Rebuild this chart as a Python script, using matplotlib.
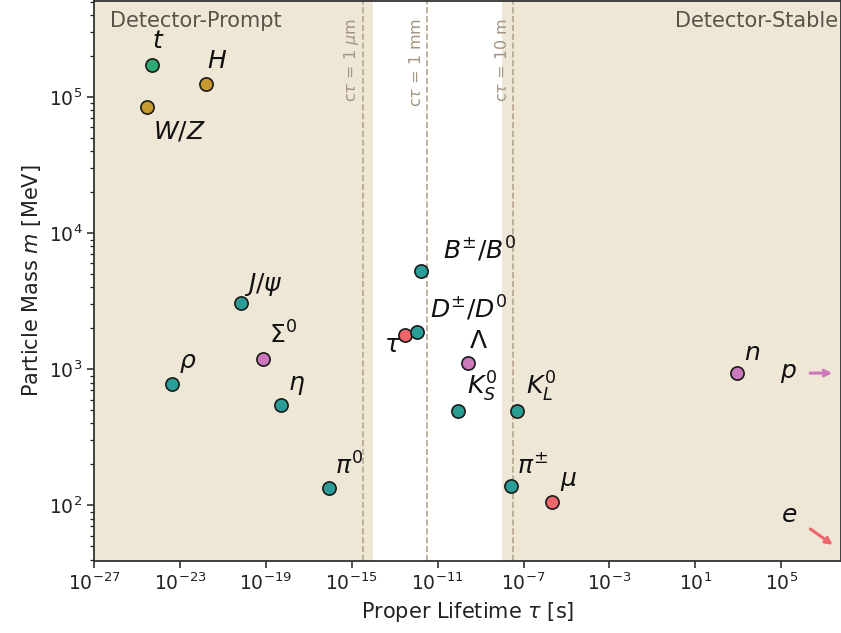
import matplotlib
matplotlib.use("Agg")
import matplotlib.pyplot as plt
import matplotlib.transforms as mtransforms
from matplotlib.ticker import NullLocator

# particle data: proper lifetime [s], mass [MeV]
names = ["t", "W/Z", "H", "J/psi", "Sigma0", "rho", "eta", "pi0", "tau",
         "D", "B", "Lambda", "KS", "KL", "pipm", "mu", "n"]
labels = [r"$t$", r"$W/Z$", r"$H$", r"$J/\psi$", r"$\Sigma^0$", r"$\rho$",
          r"$\eta$", r"$\pi^0$", r"$\tau$", r"$D^{\pm}/D^0$", r"$B^{\pm}/B^0$",
          r"$\Lambda$", r"$K_S^0$", r"$K_L^0$", r"$\pi^{\pm}$", r"$\mu$", r"$n$"]
lifetimes = [5e-25, 3e-25, 1.6e-22, 7.1e-21, 7.4e-20, 4.5e-24, 5.0e-19,
             8.5e-17, 2.9e-13, 1.04e-12, 1.6e-12, 2.6e-10, 8.95e-11,
             5.1e-8, 2.6e-8, 2.2e-6, 880.0]
masses = [172760, 85000, 125100, 3097, 1193, 775, 548, 135, 1777,
          1867, 5279, 1116, 498, 498, 139.6, 105.7, 939.6]
groups = ["top", "boson", "boson", "meson", "baryon", "meson", "meson", "meson",
          "lepton", "meson", "meson", "baryon", "meson", "meson", "meson",
          "lepton", "baryon"]

# stable ones drawn as arrows off the right edge
proton_mass = 938.3

ctau_lifetimes = [3.34e-15, 3.34e-12, 3.34e-8]
ctau_labels = [r"c$\tau$ = 1 $\mu$m", r"c$\tau$ = 1 mm", r"c$\tau$ = 10 m"]

colors = {"top": "#2eab74", "boson": "#c89a2e", "meson": "#2a9d97",
          "baryon": "#cc78bc", "lepton": "#f0646b"}

# label offsets in pixels (dx, dy)
offsets = {"t": (6, 24), "W/Z": (32, -25), "H": (11, 23), "J/psi": (22, 18),
           "Sigma0": (20, 24), "rho": (15, 21), "eta": (16, 20), "pi0": (20, 22),
           "tau": (-12, -10), "D": (52, 24), "B": (59, 22), "Lambda": (10, 22),
           "KS": (24, 24), "KL": (24, 24), "pipm": (22, 20), "mu": (16, 21),
           "n": (15, 20)}

XMIN, XMAX = 1e-27, 6e7
YMIN, YMAX = 39, 5.1e5
shade = "#efe7d6"
line_col = "#b8a68c"

plt.rcParams["font.family"] = "DejaVu Sans"
plt.rcParams["mathtext.fontset"] = "dejavusans"

fig = plt.figure(figsize=(8.41, 6.33), dpi=100)
ax = fig.add_axes([94 / 841, 72 / 633, 747 / 841, 560 / 633])
ax.set_xscale("log")
ax.set_yscale("log")
ax.set_xlim(XMIN, XMAX)
ax.set_ylim(YMIN, YMAX)

ax.axvspan(XMIN, 1e-14, color=shade, lw=0, zorder=0)
ax.axvspan(1e-8, XMAX, color=shade, lw=0, zorder=0)

for x, lab in zip(ctau_lifetimes, ctau_labels):
    ax.axvline(x, color=line_col, ls="--", lw=1.2, zorder=1)
    ax.annotate(lab, xy=(x, 1), xycoords=("data", "axes fraction"),
                xytext=(-11, -17), textcoords="offset pixels",
                rotation=90, ha="center", va="top", fontsize=11.5,
                color="#a39480", zorder=2)

ax.text(0.022, 0.982, "Detector-Prompt", transform=ax.transAxes, ha="left",
        va="top", fontsize=15, color="#5a5148")
ax.text(0.996, 0.982, "Detector-Stable", transform=ax.transAxes, ha="right",
        va="top", fontsize=15, color="#5a5148")

for nm, lab, tau, m, g in zip(names, labels, lifetimes, masses, groups):
    ax.plot(tau, m, "o", ms=9.5, mfc=colors[g], mec="#1a1a1a", mew=1.2, zorder=4)
    dx, dy = offsets[nm]
    ax.annotate(lab, xy=(tau, m), xytext=(dx, dy), textcoords="offset pixels",
                ha="center", va="center", fontsize=18, color="#111111", zorder=5)

# proton: stable, arrow to the right
trans = mtransforms.blended_transform_factory(ax.transAxes, ax.transData)
ax.annotate("", xy=(0.992, proton_mass), xycoords=trans,
            xytext=(0.955, proton_mass), textcoords=trans,
            arrowprops=dict(arrowstyle="->", color=colors["baryon"], lw=2.2))
ax.text(0.93, proton_mass, r"$p$", transform=trans, ha="center", va="center",
        fontsize=18, color="#111111")

# electron: stable and below the mass range
ax.annotate("", xy=(0.992, 0.026), xycoords="axes fraction",
            xytext=(0.956, 0.060), textcoords="axes fraction",
            arrowprops=dict(arrowstyle="->", color=colors["lepton"], lw=2.2))
ax.text(0.93, 0.082, r"$e$", transform=ax.transAxes, ha="center",
        va="center", fontsize=18, color="#111111")

ax.xaxis.set_minor_locator(NullLocator())
ax.set_xticks([10.0 ** k for k in range(-27, 6, 4)])
ax.tick_params(which="major", length=5, width=1.1, labelsize=13.5, colors="#222222")
ax.tick_params(which="minor", length=3, width=0.9, colors="#222222")
for s in ax.spines.values():
    s.set_color("#333333")
    s.set_linewidth(1.3)

ax.set_xlabel(r"Proper Lifetime $\tau$ [s]", fontsize=15, color="#222222")
ax.set_ylabel(r"Particle Mass $m$ [MeV]", fontsize=15, color="#222222")

fig.savefig("out.png", dpi=100)
